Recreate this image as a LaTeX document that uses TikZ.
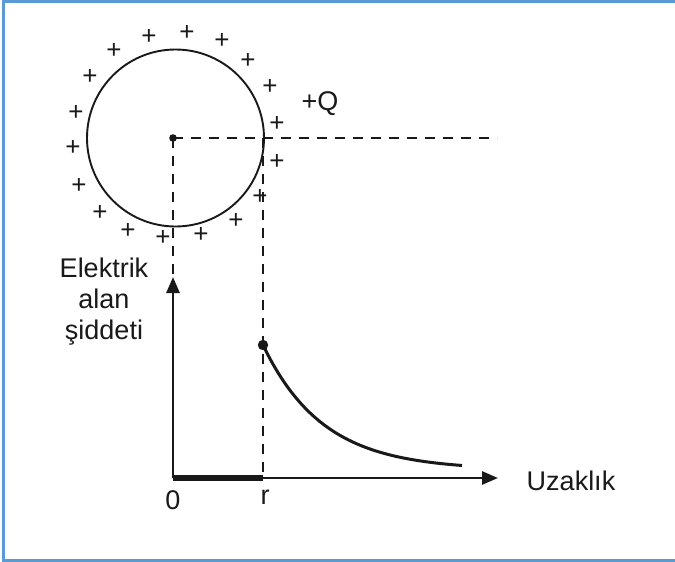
\documentclass[tikz,border=0pt]{standalone}
\usepackage{fontspec}
\setmainfont{Liberation Sans}
\usetikzlibrary{arrows.meta}
\definecolor{frameblue}{RGB}{91,155,213}
\definecolor{ink}{RGB}{25,25,25}
\begin{document}
\begin{tikzpicture}[x=1pt,y=-1pt,
  lbl/.style={font=\fontsize{27}{31}\selectfont, inner sep=0pt, text=ink, align=center},
  plus/.style={font=\fontsize{26}{26}\selectfont, inner sep=0pt, text=ink},
  dsh/.style={draw=ink, line width=2.3pt, dash pattern=on 10pt off 8pt},
  axis/.style={draw=ink, line width=2.8pt, -{Triangle[length=16pt,width=13pt]}},
]
\useasboundingbox (0,0) rectangle (675,562);
\draw[frameblue, line width=3pt] (675,1) -- (3,1) -- (3,560.5) -- (675,560.5);

% coordinates
\coordinate (C) at (173,138);
\coordinate (O) at (173,478);
\coordinate (R) at (263,478);
\coordinate (Rt) at (263,138);
\coordinate (Hend) at (497,138);
\coordinate (Ytip) at (173,277);
\coordinate (Xtip) at (498,478);
\coordinate (P) at (263,345);

% sphere
\draw[ink, line width=1.9pt] (175.5,138) circle (88.5);
\node[plus] (p1) at (149,37) {+};
\node[plus] (p2) at (187,33) {+};
\node[plus] (p3) at (222,41) {+};
\node[plus] (p4) at (248,61) {+};
\node[plus] (p5) at (270,87) {+};
\node[plus] (p6) at (277,124) {+};
\node[plus] (p7) at (277,162) {+};
\node[plus] (p8) at (260,197) {+};
\node[plus] (p9) at (236,221) {+};
\node[plus] (p10) at (201,235) {+};
\node[plus] (p11) at (163,238) {+};
\node[plus] (p12) at (128,231) {+};
\node[plus] (p13) at (100,213) {+};
\node[plus] (p14) at (79,186) {+};
\node[plus] (p15) at (73,148) {+};
\node[plus] (p16) at (76,113) {+};
\node[plus] (p17) at (90,77) {+};
\node[plus] (p18) at (114,51) {+};
\node[lbl] (Q) at (320,104) {+Q};

% dashed guides
\draw[dsh] (C) -- (Hend);
\draw[dsh] (C) -- (Ytip);
\draw[dsh] (Rt) -- (R);

% axes
\draw[axis] (O) -- (Ytip);
\draw[axis] (O) -- (Xtip);
\draw[ink, line width=5.5pt] (O) -- (R);

% curve
\draw[ink, line width=3pt] plot[domain=0:199, samples=80] ({263+\x}, {470-125*exp(-\x/60)});
\fill[ink] (P) circle (5.2);
\fill[ink] (C) circle (3.8);

% labels
\node[lbl] (ylab) at (104,302) {Elektrik\\alan\\şiddeti};
\node[lbl] (zero) at (173,500) {0};
\node[lbl] (rlab) at (265,497) {r};
\node[lbl] (xlab) at (571,481) {Uzaklık};
\end{tikzpicture}
\end{document}
